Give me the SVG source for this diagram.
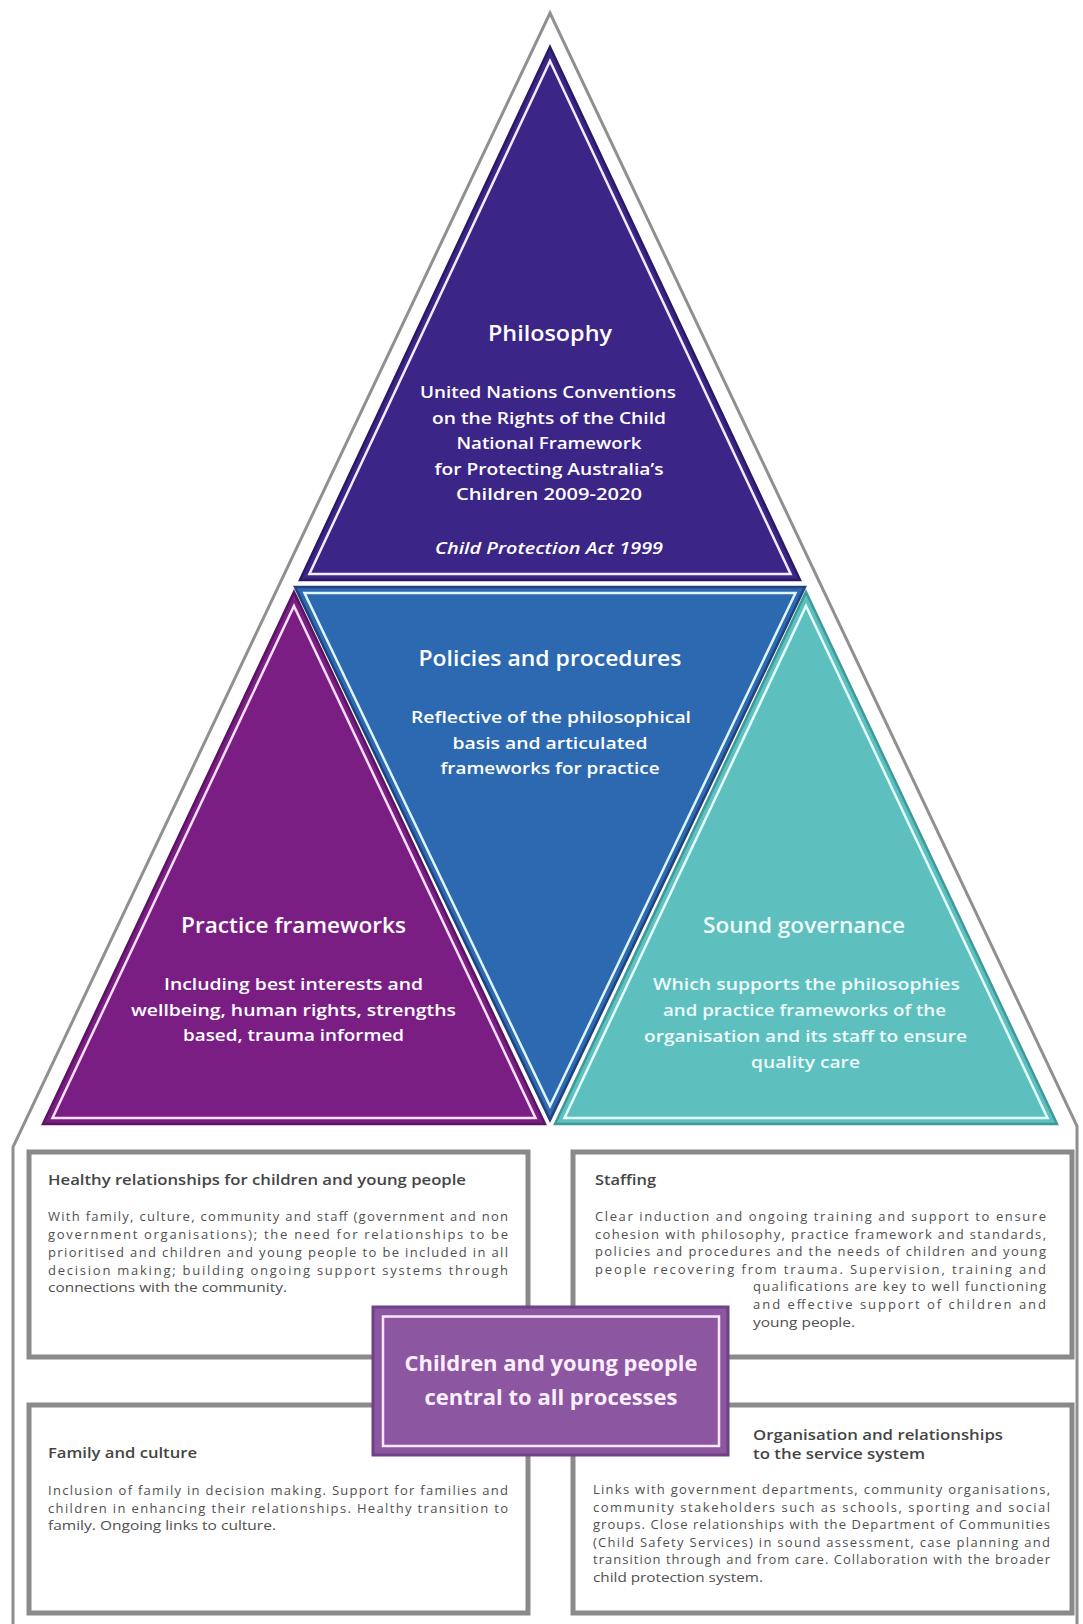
<svg xmlns="http://www.w3.org/2000/svg" width="1083" height="1624" viewBox="0 0 1083 1624">
<style>
.t{font-family:"Open Sans","Liberation Sans",sans-serif;text-anchor:middle}
.tw{fill:#ffffff}
.ttl{font-size:21px;font-weight:600}
.tb{font-size:15.5px;font-weight:600}
.bx{fill:#ffffff;stroke:#8a8a8a;stroke-width:5}
.bt{font-family:"Open Sans","Liberation Sans",sans-serif;font-size:14.5px;font-weight:600;fill:#454545}
.bb{font-family:"Open Sans","Liberation Sans",sans-serif;font-size:13px;fill:#505050}
.inner{fill:none;stroke-width:2.5;stroke-linejoin:miter}
</style>
<rect width="1083" height="1624" fill="#ffffff"/>
<g id="outline">
<path d="M13,1624 L13,1147 L550,13 L1077,1126 L1077,1624" fill="none" stroke="#909090" stroke-width="3"/>
</g>
<g id="connectors"/>
<g id="philosophy">
<polygon points="550,47 800,580 300,580" fill="#3b2586" stroke="#2a1a66" stroke-width="2.5"/>
<polygon class="inner" points="550,61 790.6,574 309.4,574" stroke="#f3ecff"/>
<text class="t tw ttl" x="550" y="341" textLength="124" lengthAdjust="spacingAndGlyphs">Philosophy</text>
<text class="t tw tb" x="548" y="398" textLength="256" lengthAdjust="spacingAndGlyphs">United Nations Conventions</text>
<text class="t tw tb" x="549" y="424" textLength="234" lengthAdjust="spacingAndGlyphs">on the Rights of the Child</text>
<text class="t tw tb" x="549" y="449" textLength="185" lengthAdjust="spacingAndGlyphs">National Framework</text>
<text class="t tw tb" x="549" y="475" textLength="229" lengthAdjust="spacingAndGlyphs">for Protecting Australia’s</text>
<text class="t tw tb" x="549" y="500" textLength="186" lengthAdjust="spacingAndGlyphs">Children 2009-2020</text>
<text class="t tw tb" x="549" y="554" font-style="italic" font-weight="400" textLength="228" lengthAdjust="spacingAndGlyphs">Child Protection Act 1999</text>
</g>
<g id="policies">
<polygon points="295,587 805,587 550,1120" fill="#2c69b0" stroke="#22427e" stroke-width="2.5"/>
<polygon class="inner" points="304.5,593 795.5,593 550,1106" stroke="#dff6ff"/>
<text class="t tw ttl" x="550" y="666" font-size="22" textLength="263" lengthAdjust="spacingAndGlyphs">Policies and procedures</text>
<text class="t tw tb" x="551" y="723" textLength="280" lengthAdjust="spacingAndGlyphs">Reflective of the philosophical</text>
<text class="t tw tb" x="550" y="748.5" textLength="195" lengthAdjust="spacingAndGlyphs">basis and articulated</text>
<text class="t tw tb" x="550" y="774" textLength="219" lengthAdjust="spacingAndGlyphs">frameworks for practice</text>
</g>
<g id="practice">
<polygon points="294,592 545,1124 43,1124" fill="#7b1e84" stroke="#5a1562" stroke-width="2.5"/>
<polygon class="inner" points="294,606 535.5,1118 52.5,1118" stroke="#fbe0fb"/>
<text class="t tw ttl" x="293.5" y="933" font-size="22" textLength="225" lengthAdjust="spacingAndGlyphs">Practice frameworks</text>
<text class="t tw tb" x="293.5" y="990" textLength="259" lengthAdjust="spacingAndGlyphs">Including best interests and</text>
<text class="t tw tb" x="293.5" y="1016" textLength="325" lengthAdjust="spacingAndGlyphs">wellbeing, human rights, strengths</text>
<text class="t tw tb" x="293.5" y="1041" textLength="221" lengthAdjust="spacingAndGlyphs">based, trauma informed</text>
</g>
<g id="governance">
<polygon points="806,592 1057,1124 555,1124" fill="#5dc0bf" stroke="#3e9a9a" stroke-width="2.5"/>
<polygon class="inner" points="806,606 1047.5,1118 564.5,1118" stroke="#e5ffff"/>
<text class="t ttl" fill="#eefafa" x="804" y="933" font-size="22" textLength="202" lengthAdjust="spacingAndGlyphs">Sound governance</text>
<text class="t tb" fill="#eefafa" x="806.5" y="990" textLength="307" lengthAdjust="spacingAndGlyphs">Which supports the philosophies</text>
<text class="t tb" fill="#eefafa" x="804.5" y="1016" textLength="283" lengthAdjust="spacingAndGlyphs">and practice frameworks of the</text>
<text class="t tb" fill="#eefafa" x="805.5" y="1042" textLength="323" lengthAdjust="spacingAndGlyphs">organisation and its staff to ensure</text>
<text class="t tb" fill="#eefafa" x="805.5" y="1068" textLength="109" lengthAdjust="spacingAndGlyphs">quality care</text>
</g>
<g id="healthy">
<rect class="bx" x="29" y="1152" width="499" height="205"/>
<text class="bt" x="48" y="1185" textLength="418" lengthAdjust="spacingAndGlyphs">Healthy relationships for children and young people</text>
<text class="bb" x="48" y="1221" textLength="460" lengthAdjust="spacing">With family, culture, community and staff (government and non</text>
<text class="bb" x="48" y="1239" textLength="460" lengthAdjust="spacing">government organisations); the need for relationships to be</text>
<text class="bb" x="48" y="1257" textLength="460" lengthAdjust="spacing">prioritised and children and young people to be included in all</text>
<text class="bb" x="48" y="1274.5" textLength="460" lengthAdjust="spacing">decision making; building ongoing support systems through</text>
<text class="bb" x="48" y="1292" textLength="239" lengthAdjust="spacingAndGlyphs">connections with the community.</text>
</g>
<g id="staffing">
<rect class="bx" x="573" y="1152" width="499" height="205"/>
<text class="bt" x="595" y="1185" textLength="61" lengthAdjust="spacingAndGlyphs">Staffing</text>
<text class="bb" x="595" y="1221" textLength="451" lengthAdjust="spacing">Clear induction and ongoing training and support to ensure</text>
<text class="bb" x="595" y="1238.6" textLength="451" lengthAdjust="spacing">cohesion with philosophy, practice framework and standards,</text>
<text class="bb" x="595" y="1256.2" textLength="451" lengthAdjust="spacing">policies and procedures and the needs of children and young</text>
<text class="bb" x="595" y="1273.8" textLength="451" lengthAdjust="spacing">people recovering from trauma. Supervision, training and</text>
<text class="bb" x="753" y="1291.4" textLength="293" lengthAdjust="spacing">qualifications are key to well functioning</text>
<text class="bb" x="753" y="1309" textLength="293" lengthAdjust="spacing">and effective support of children and</text>
<text class="bb" x="753" y="1326.6" textLength="102" lengthAdjust="spacingAndGlyphs">young people.</text>
</g>
<g id="family">
<rect class="bx" x="29" y="1405" width="499" height="208"/>
<text class="bt" x="48" y="1458" textLength="149" lengthAdjust="spacingAndGlyphs">Family and culture</text>
<text class="bb" x="48" y="1495" textLength="460" lengthAdjust="spacing">Inclusion of family in decision making. Support for families and</text>
<text class="bb" x="48" y="1512.6" textLength="460" lengthAdjust="spacing">children in enhancing their relationships. Healthy transition to</text>
<text class="bb" x="48" y="1530.2" textLength="228" lengthAdjust="spacingAndGlyphs">family. Ongoing links to culture.</text>
</g>
<g id="organisation">
<rect class="bx" x="573" y="1405" width="499" height="208"/>
<text class="bt" x="753" y="1440" textLength="250" lengthAdjust="spacingAndGlyphs">Organisation and relationships</text>
<text class="bt" x="753" y="1459" textLength="172" lengthAdjust="spacingAndGlyphs">to the service system</text>
<text class="bb" x="593" y="1494" textLength="457" lengthAdjust="spacing">Links with government departments, community organisations,</text>
<text class="bb" x="593" y="1511.6" textLength="457" lengthAdjust="spacing">community stakeholders such as schools, sporting and social</text>
<text class="bb" x="593" y="1529.2" textLength="457" lengthAdjust="spacing">groups. Close relationships with the Department of Communities</text>
<text class="bb" x="593" y="1546.8" textLength="457" lengthAdjust="spacing">(Child Safety Services) in sound assessment, case planning and</text>
<text class="bb" x="593" y="1564.4" textLength="457" lengthAdjust="spacing">transition through and from care. Collaboration with the broader</text>
<text class="bb" x="593" y="1582" textLength="170" lengthAdjust="spacingAndGlyphs">child protection system.</text>
</g>
<g id="centre">
<rect x="373" y="1307" width="355" height="148" fill="#8c56a1" stroke="#6f4187" stroke-width="3"/>
<rect x="383" y="1316.5" width="336" height="129.5" fill="none" stroke="#fbe8ff" stroke-width="2.5"/>
<text class="t" fill="#fbeeff" font-size="22" font-weight="700" x="551" y="1371" textLength="293" lengthAdjust="spacingAndGlyphs">Children and young people</text>
<text class="t" fill="#fbeeff" font-size="22" font-weight="700" x="551" y="1405" textLength="253" lengthAdjust="spacingAndGlyphs">central to all processes</text>
</g>
</svg>
